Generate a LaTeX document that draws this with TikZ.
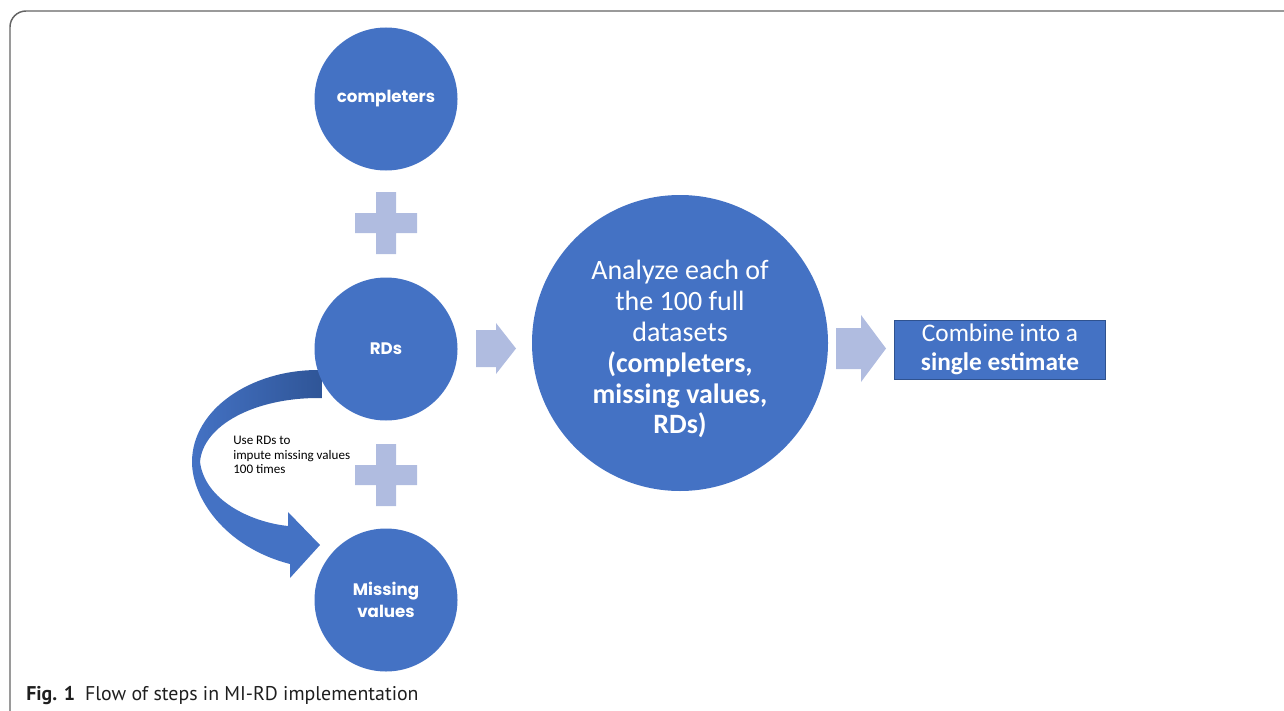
\documentclass[tikz,border=0pt]{standalone}
\usepackage{fontspec}
\setmainfont{Carlito}
\newfontfamily\popfont{Poppins}
\newfontfamily\capfont{PT Sans}
\definecolor{mblue}{RGB}{68,114,196}
\definecolor{dblue}{RGB}{47,85,151}
\definecolor{lblue}{RGB}{176,188,224}
\definecolor{boxedge}{RGB}{47,82,143}
\definecolor{framegray}{RGB}{100,100,100}
\begin{document}
\begin{tikzpicture}[x=0.75pt,y=-0.75pt,
  blob/.style={circle, fill=mblue, inner sep=0pt, minimum size=107.25pt,
    text=white, align=center, font=\popfont\bfseries\fontsize{12.5}{16.5}\selectfont},
  bigblob/.style={circle, fill=mblue, inner sep=0pt, minimum size=222pt},
  bigtext/.style={text=white, align=center, inner sep=0pt,
    font=\fontsize{21}{23.2}\selectfont},
  resultbox/.style={rectangle, fill=mblue, draw=boxedge, line width=0.7pt,
    minimum width=158.25pt, minimum height=44.25pt, inner sep=0pt,
    text=white, align=center, font=\fontsize{19}{22}\selectfont},
  plussign/.pic={\fill[lblue] (-10,-31) -- (10,-31) -- (10,-10) -- (31,-10) -- (31,10)
      -- (10,10) -- (10,31) -- (-10,31) -- (-10,10) -- (-31,10) -- (-31,-10)
      -- (-10,-10) -- cycle;}
]
\useasboundingbox (0,0) rectangle (1284,710);

% frame of the figure panel
\draw[framegray, line width=1.1pt] (10,714) -- (10,27)
  arc[start angle=180, end angle=270, radius=16] -- (1290,11);

% curved arrow: back band (shaded) then front band with head
\path[left color=mblue, right color=dblue]
  (322,370) -- (318,370) .. controls (250,370) and (192,410) .. (192,462)
  -- (200,462) .. controls (203,425) and (255,398) .. (318,398) -- (322,398) -- cycle;
\fill[mblue] (192,462) .. controls (192,497) and (224,547) .. (290,564)
  -- (290,578) -- (320,545) -- (288,512) -- (288,526)
  .. controls (250,522) and (205,500) .. (200,462) -- cycle;

% inputs
\node[blob] (comp) at (386,99) {completers};
\node[blob] (rds) at (386,349) {RDs};
\node[blob] (miss) at (386,600) {Missing\\values};
\pic at (386,223) {plussign};
\pic at (386,475) {plussign};

\node[anchor=north west, align=left, inner sep=0pt,
  font=\fontsize{9.8}{11}\selectfont] (note) at (233,436)
  {Use RDs to\\impute missing values\\100 times};

% analysis and pooling
\node[bigblob, label={[bigtext, yshift=-4.5pt]center:{Analyze each of\\the 100 full\\datasets\\\textbf{(completers,}\\\textbf{missing values,}\\\textbf{RDs)}}}] (ana) at (680,343) {};
\node[resultbox] (comb) at (1000,349.5) {Combine into a\\\textbf{single estimate}};

% block arrows between stages
\fill[lblue] (476,330) -- (496,330) -- (496,323) -- (516,348.5) -- (496,374)
  -- (496,367) -- (476,367) -- cycle;
\fill[lblue] (836,328) -- (861,328) -- (861,315) -- (886,348.5) -- (861,382)
  -- (861,369) -- (836,369) -- cycle;

% caption
\node[anchor=base west, inner sep=0pt, text=black!88,
  font=\capfont\fontsize{14.9}{18}\selectfont] (cap) at (26,700)
  {\textbf{Fig. 1}\hspace{0.5em}Flow of steps in MI-RD implementation};
\end{tikzpicture}
\end{document}
